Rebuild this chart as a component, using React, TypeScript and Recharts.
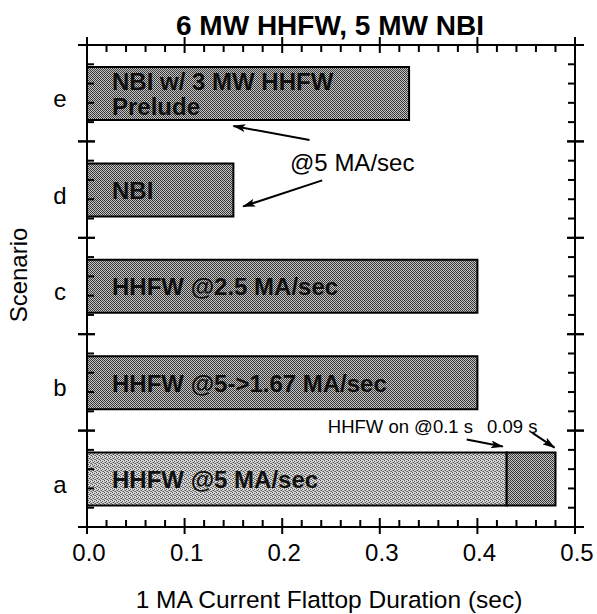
import { BarChart, Bar, XAxis, YAxis, Cell, LabelList } from "recharts";

// scenarios listed top to bottom
const scenarios = ["e", "d", "c", "b", "a"];
const flattop = [0.33, 0.15, 0.4, 0.4, 0.43];
const hhfwGain = [0, 0, 0, 0, 0.05];
const barNotes = [
  "NBI w/ 3 MW HHFW\nPrelude",
  "NBI",
  "HHFW @2.5 MA/sec",
  "HHFW @5->1.67 MA/sec",
  "HHFW @5 MA/sec",
];
const lightBars = ["a"];

const xTickLabels = ["0.0", "0.1", "0.2", "0.3", "0.4", "0.5"];
const xMinorStep = 0.02;
const yMinorPerRow = 5;

// pointer arrows: x in seconds, dy in px from the named edge of that row's bar
const pointers = [
  { row: "e", edge: "bottom", head: { x: 0.15, dy: 6 }, tail: { x: 0.228, dy: 20 } },
  { row: "d", edge: "bottom", head: { x: 0.16, dy: -10 }, tail: { x: 0.241, dy: -36 } },
  { row: "a", edge: "top", head: { x: 0.426, dy: -6 }, tail: { x: 0.389, dy: -13 } },
  { row: "a", edge: "top", head: { x: 0.479, dy: -5 }, tail: { x: 0.456, dy: -20 } },
];

const rows = scenarios.map((name, i) => ({
  name,
  main: flattop[i],
  gain: hhfwGain[i] || null,
  note: barNotes[i],
}));

const xAll = Array.from({ length: Math.round(0.5 / xMinorStep) + 1 }, (_, i) => +(i * xMinorStep).toFixed(2));

const FONT = '"Liberation Sans", Arial, Helvetica, sans-serif';
const isMajorX = (v: number) => Math.abs(v * 10 - Math.round(v * 10)) < 1e-6;

function BottomTick({ x, y, payload }: any) {
  const v = payload.value;
  const major = isMajorX(v);
  return (
    <g>
      <line x1={x} x2={x} y1={y - (major ? 9 : 7)} y2={y + (major ? 7 : 0)} stroke="#000" strokeWidth={2} />
      {major && (
        <text x={x + 2} y={y + 34} textAnchor="middle" fontSize={24} fontFamily={FONT} fill="#000">
          {xTickLabels[Math.round(v * 10)]}
        </text>
      )}
    </g>
  );
}

function TopTick({ x, y, payload }: any) {
  const major = isMajorX(payload.value);
  return <line x1={x} x2={x} y1={y - (major ? 8 : 0)} y2={y + (major ? 8 : 7)} stroke="#000" strokeWidth={2} />;
}

// one scenario band: boundary ticks cross the frame, minor ticks point inward
function bandTicks(x: number, y: number, half: number, side: 1 | -1) {
  const step = (2 * half) / yMinorPerRow;
  const out = [];
  for (let k = 0; k <= yMinorPerRow; k++) {
    const ty = y - half + k * step;
    const major = k === 0 || k === yMinorPerRow;
    out.push(
      <line
        key={k}
        x1={x - side * (major ? 9 : 0)}
        x2={x + side * (major ? 8 : 7)}
        y1={ty}
        y2={ty}
        stroke="#000"
        strokeWidth={2}
      />
    );
  }
  return out;
}

function ScenarioTick({ x, y, payload }: any) {
  const half = payload.offset || 0;
  return (
    <g>
      {bandTicks(x, y, half, 1)}
      <text x={x - 27} y={y + 14} textAnchor="middle" fontSize={24} fontFamily={FONT} fill="#000">
        {payload.value}
      </text>
    </g>
  );
}

function RightTick({ x, y, payload }: any) {
  return <g>{bandTicks(x, y, payload.offset || 0, -1)}</g>;
}

function NoteLabel({ x, y, height, value }: any) {
  const lines = String(value).split("\n");
  const lineGap = 25;
  const cy = y + height / 2 + 9 - ((lines.length - 1) * lineGap) / 2;
  return (
    <text x={x + 25} fontSize={24} fontWeight="bold" fontFamily={FONT} fill="#111">
      {lines.map((t, i) => (
        <tspan key={i} x={x + 25} y={cy + i * lineGap}>
          {t}
        </tspan>
      ))}
    </text>
  );
}

// arrows hang off the first segment of each bar, which starts at 0 s
function PointerLabel({ x, y, width, height, index }: any) {
  const row = rows[index];
  if (!row || !width) return null;
  const pxPerSec = width / row.main;
  const items = pointers.filter((p) => p.row === row.name);
  return (
    <g>
      {items.map((p, i) => {
        const edgeY = p.edge === "top" ? y : y + height;
        return (
          <line
            key={i}
            x1={x + p.tail.x * pxPerSec}
            y1={edgeY + p.tail.dy}
            x2={x + p.head.x * pxPerSec}
            y2={edgeY + p.head.dy}
            stroke="#000"
            strokeWidth={2}
            markerEnd="url(#arrowHead)"
          />
        );
      })}
    </g>
  );
}

export default function App() {
  return (
    <div style={{ position: "absolute", left: 0, top: 0, width: 597, height: 614, background: "#fff" }}>
      <BarChart
        width={597}
        height={614}
        layout="vertical"
        data={rows}
        margin={{ top: 44, right: 21, bottom: 86, left: 86 }}
      >
        <defs>
          <pattern id="halftoneDark" width="4" height="4" patternUnits="userSpaceOnUse">
            <rect width="4" height="4" fill="#c4c4c4" />
            <rect x="0" y="0" width="1" height="1" fill="#2a2a2a" />
            <rect x="2" y="0" width="1" height="1" fill="#3a3a3a" />
            <rect x="1" y="1" width="1" height="1" fill="#333" />
            <rect x="3" y="1" width="1" height="1" fill="#4a4a4a" />
            <rect x="0" y="2" width="1" height="1" fill="#404040" />
            <rect x="2" y="2" width="1" height="1" fill="#2a2a2a" />
            <rect x="1" y="3" width="1" height="1" fill="#4a4a4a" />
            <rect x="3" y="3" width="1" height="1" fill="#333" />
          </pattern>
          <pattern id="halftoneLight" width="4" height="4" patternUnits="userSpaceOnUse">
            <rect width="4" height="4" fill="#d6d6d6" />
            <rect x="0" y="0" width="1" height="1" fill="#4a4a4a" />
            <rect x="2" y="1" width="1" height="1" fill="#555" />
            <rect x="1" y="2" width="1" height="1" fill="#4a4a4a" />
            <rect x="3" y="3" width="1" height="1" fill="#5a5a5a" />
            <rect x="2" y="3" width="1" height="1" fill="#8a8a8a" />
            <rect x="0" y="2" width="1" height="1" fill="#909090" />
          </pattern>
          <marker id="arrowHead" markerWidth="13" markerHeight="8" refX="12" refY="4" orient="auto" markerUnits="userSpaceOnUse">
            <path d="M0,0 L13,4 L0,8 L3,4 z" fill="#000" />
          </marker>
        </defs>

        <XAxis
          xAxisId="bottom"
          type="number"
          domain={[0, 0.5]}
          allowDataOverflow
          ticks={xAll}
          interval={0}
          height={1}
          tickSize={0}
          tickMargin={0}
          tickLine={false}
          axisLine={{ stroke: "#000", strokeWidth: 2 }}
          tick={<BottomTick />}
        />
        <XAxis
          xAxisId="top"
          orientation="top"
          type="number"
          domain={[0, 0.5]}
          allowDataOverflow
          ticks={xAll}
          interval={0}
          height={1}
          tickSize={0}
          tickMargin={0}
          tickLine={false}
          axisLine={{ stroke: "#000", strokeWidth: 2 }}
          tick={<TopTick />}
        />
        <YAxis
          yAxisId="cat"
          type="category"
          dataKey="name"
          width={1}
          interval={0}
          tickSize={0}
          tickMargin={0}
          tickLine={false}
          axisLine={{ stroke: "#000", strokeWidth: 2 }}
          tick={<ScenarioTick />}
        />
        <YAxis
          yAxisId="catRight"
          orientation="right"
          type="category"
          dataKey="name"
          width={1}
          interval={0}
          tickSize={0}
          tickMargin={0}
          tickLine={false}
          axisLine={{ stroke: "#000", strokeWidth: 2 }}
          tick={<RightTick />}
        />

        <Bar
          xAxisId="bottom"
          yAxisId="cat"
          dataKey="main"
          stackId="s"
          barSize={53}
          stroke="#000"
          strokeWidth={2}
          isAnimationActive={false}
        >
          {rows.map((r) => (
            <Cell key={r.name} fill={lightBars.includes(r.name) ? "url(#halftoneLight)" : "url(#halftoneDark)"} />
          ))}
          <LabelList dataKey="note" content={<NoteLabel />} />
          <LabelList dataKey="main" content={<PointerLabel />} />
        </Bar>
        <Bar
          xAxisId="bottom"
          yAxisId="cat"
          dataKey="gain"
          stackId="s"
          barSize={53}
          fill="url(#halftoneDark)"
          stroke="#000"
          strokeWidth={2}
          isAnimationActive={false}
        />

        <text x={330} y={35} textAnchor="middle" fontSize={28} fontWeight="bold" fontFamily={FONT} fill="#000">
          6 MW HHFW, 5 MW NBI
        </text>
        <text x={290} y={171} fontSize={24} fontFamily={FONT} fill="#000">
          @5 MA/sec
        </text>
        <text x={473} y={433} textAnchor="end" fontSize={18.5} fontFamily={FONT} fill="#000">
          HHFW on @0.1 s
        </text>
        <text x={487} y={433} fontSize={18.5} fontFamily={FONT} fill="#000">
          0.09 s
        </text>
        <text x={329} y={608} textAnchor="middle" fontSize={24.5} fontFamily={FONT} fill="#000">
          1 MA Current Flattop Duration (sec)
        </text>
        <text x={27} y={275} textAnchor="middle" fontSize={24} fontFamily={FONT} fill="#000" transform="rotate(-90 27 275)">
          Scenario
        </text>
      </BarChart>
    </div>
  );
}
